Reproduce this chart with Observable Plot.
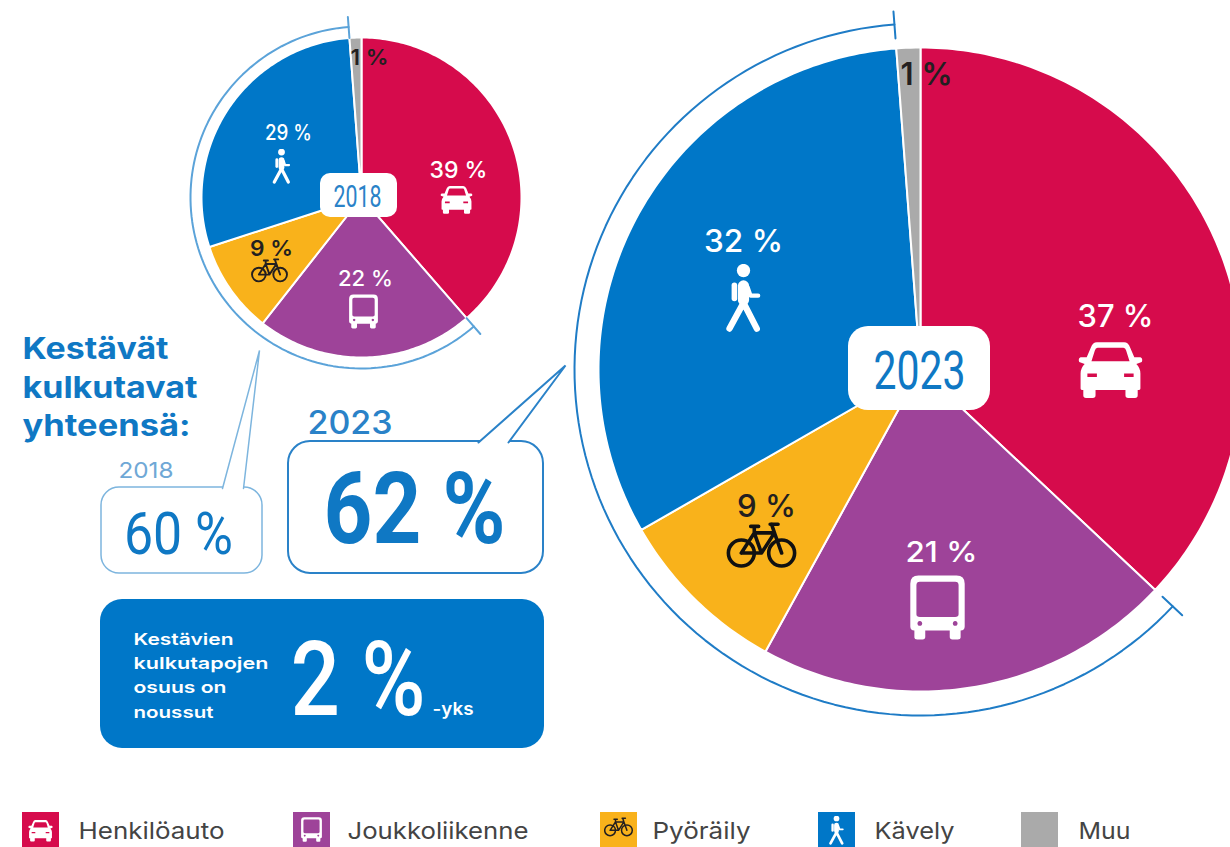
<!DOCTYPE html>
<html lang="fi">
<head>
<meta charset="utf-8">
<script src="https://cdn.jsdelivr.net/npm/d3@7"></script>
<script src="https://cdn.jsdelivr.net/npm/@observablehq/plot@0.6"></script>
<style>html,body{margin:0;padding:0;background:#fff;overflow:hidden}</style>
</head>
<body>
<div id="chart"></div>
<script>
const categories = ["Henkilöauto", "Joukkoliikenne", "Pyöräily", "Kävely", "Muu"];
const colors = ["#d60b4c", "#9e4399", "#f9b21b", "#0077c8", "#aaaaaa"];
const values2018 = [38.6, 22, 9.4, 28.8, 1.2];
const values2023 = [37, 21, 8.7, 32.1, 1.2];
const W = 1230, H = 847;

const SANS = "Inter, 'Noto Sans', sans-serif";
const NARROW = "Roboto, sans-serif";
const BLUE = "#0f78c4", LIGHT = "#7db5de", MID = "#2a82c8";

// ---- layout of the two pies
const pies = [
  {year: "2018", values: values2018, cx: 361, cy: 197, r: 160, bracketR: 171, tickIn: 160, tickOut: 181, bracket: "#5ba3d9"},
  {year: "2023", values: values2023, cx: 920, cy: 369, r: 322, bracketR: 346, tickIn: 332, tickOut: 359, bracket: "#1f7cc6"}
];

const polar = (p, r, a) => ({x: p.cx + r * Math.sin(a), y: p.cy - r * Math.cos(a)});
const TAU = 2 * Math.PI;
const pieLayout = d3.pie().sort(null);

const slicePoints = pies.flatMap(p =>
  pieLayout(p.values).flatMap((s, i) => {
    const n = Math.max(4, Math.ceil((s.endAngle - s.startAngle) * 60));
    const rim = d3.range(n + 1).map(k =>
      polar(p, p.r, s.startAngle + (s.endAngle - s.startAngle) * k / n));
    return [{x: p.cx, y: p.cy}, ...rim, {x: p.cx, y: p.cy}]
      .map(q => ({...q, key: p.year + i, category: categories[i]}));
  })
);

// the bracket spans the three sustainable modes (slices 1 to 3)
const bracketPoints = pies.flatMap(p => {
  const total = d3.sum(p.values);
  const a0 = p.values[0] / total * TAU;
  const a1 = a0 + d3.sum(p.values.slice(1, 4)) / total * TAU;
  const arc = d3.range(121).map(k => polar(p, p.bracketR, a0 + (a1 - a0) * k / 120));
  return [
    ...arc.map(q => ({...q, key: p.year + "arc", color: p.bracket})),
    ...[polar(p, p.tickIn, a0), polar(p, p.tickOut, a0)].map(q => ({...q, key: p.year + "t0", color: p.bracket})),
    ...[polar(p, p.tickIn, a1), polar(p, p.tickOut, a1)].map(q => ({...q, key: p.year + "t1", color: p.bracket}))
  ];
});

// ---- icons
const svgUri = (inner, vb) => "data:image/svg+xml," + encodeURIComponent(
  `<svg xmlns="http://www.w3.org/2000/svg" viewBox="${vb || "0 0 100 100"}">${inner}</svg>`);
const icon = {
  car: c => svgUri(`<path fill="${c}" fill-rule="evenodd" d="M30 10H70Q76 10 79 18L85 32H94Q98 34 96 39L88 42Q94 48 94 56V78Q94 80 92 80H90V88Q90 92 86 92H76Q72 92 72 88V80H28V88Q28 92 24 92H14Q10 92 10 88V80H8Q6 80 6 78V56Q6 48 12 42L4 39Q2 34 6 32H15L21 18Q24 10 30 10ZM31 18Q28 18 27 22L22 38H78L73 22Q72 18 69 18ZM16 56V61H30V56ZM70 56V61H84V56Z"/>`),
  bus: c => svgUri(`<path fill="${c}" fill-rule="evenodd" d="M22 3H78Q90 3 90 15V78Q90 84 84 84V94Q84 97 80 97H72Q68 97 68 93V84H32V93Q32 97 28 97H20Q16 97 16 94V84Q10 84 10 78V15Q10 3 22 3ZM24 12Q19 12 19 17V60Q19 64 24 64H76Q81 64 81 60V17Q81 12 76 12ZM24 70a3.500 3.500 0 1 0 .01 0ZM76 70a3.500 3.500 0 1 0 .01 0Z"/>`),
  bike: c => svgUri(`<g fill="none" stroke="${c}" stroke-width="5" stroke-linecap="round" stroke-linejoin="round"><circle cx="22" cy="66" r="18"/><circle cx="78" cy="66" r="18"/><path d="M22 66L40 38H68L78 66M40 38L50 66L68 38M22 66H50M35 29H46M40 29V38M64 26L68 38M62 26H73"/></g>`),
  walker: c => svgUri(`<g fill="none" stroke="${c}" stroke-linecap="round" stroke-linejoin="round"><circle cx="50" cy="10" r="9.500" fill="${c}" stroke="none"/><path stroke-width="16" d="M50 32V52"/><path stroke-width="6" d="M56 34L60 46H71"/><path stroke-width="8" d="M37 31V50"/><path stroke-width="9" d="M50 56L30 93M50 56L69 93"/></g>`)
};

const iconRows = [
  {src: icon.car("#fff"), x: 456, y: 199, size: 34},
  {src: icon.bus("#fff"), x: 363, y: 311, size: 36},
  {src: icon.bike("#231f20"), x: 269, y: 268, size: 38},
  {src: icon.walker("#fff"), x: 281, y: 166, size: 36},
  {src: icon.car("#fff"), x: 1110, y: 369, size: 68},
  {src: icon.bus("#fff"), x: 937, y: 607, size: 68},
  {src: icon.bike("#111"), x: 761, y: 541, size: 72},
  {src: icon.walker("#fff"), x: 743, y: 298, size: 70},
  {src: icon.car("#fff"), x: 40, y: 830, size: 26},
  {src: icon.bus("#fff"), x: 311, y: 829, size: 26},
  {src: icon.bike("#231f20"), x: 618, y: 825, size: 30},
  {src: icon.walker("#fff"), x: 836, y: 830, size: 30}
];

// ---- text helper; len fits the run to the reference's width
const txt = (text, x, y, size, fill, opts = {}) => Plot.text([{x, y, text}], {
  x: "x", y: "y", text: "text", fontSize: size, fill,
  lineAnchor: "bottom", textAnchor: opts.anchor || "start",
  fontFamily: opts.family || SANS, fontWeight: opts.weight || 500,
  render: opts.len ? (i, s, v, d, c, next) => {
    const g = next(i, s, v, d, c);
    g.querySelectorAll("text").forEach(t => {
      t.setAttribute("textLength", opts.len);
      t.setAttribute("lengthAdjust", "spacingAndGlyphs");
    });
    return g;
  } : undefined
});

// ---- rounded boxes
const box = (x1, y1, x2, y2, rx, fill, stroke, strokeWidth) => Plot.rect([{x1, y1, x2, y2}], {
  x1: "x1", y1: "y1", x2: "x2", y2: "y2", rx, fill, stroke: stroke || "none", strokeWidth: strokeWidth || 0
});
const tail = (pts, stroke, sw) => [
  Plot.line(pts, {x: "x", y: "y", fill: "white", stroke: "none"}),
  Plot.line(pts, {x: "x", y: "y", stroke, strokeWidth: sw, fill: "none", strokeLinejoin: "miter"})
];

const legendX = [22, 293, 600, 818, 1021];
const legendTextX = [78, 347, 652, 874, 1078];
const legendLen = [146, 181, 98, 80, 52];
const legendRows = categories.map((c, i) => ({c, x1: legendX[i], x2: legendX[i] + 37, tx: legendTextX[i]}));

const chart = Plot.plot({
  width: W, height: H,
  margin: 0,
  style: {background: "white"},
  x: {domain: [0, W], range: [0, W], axis: null},
  y: {domain: [0, H], range: [0, H], axis: null},
  color: {domain: categories, range: colors},
  marks: [
    Plot.line(slicePoints, {x: "x", y: "y", z: "key", fill: "category", stroke: "white", strokeWidth: 2, strokeLinejoin: "round"}),
    Plot.line(bracketPoints, {x: "x", y: "y", z: "key", stroke: "color", strokeWidth: 2}),
    box(320, 173, 397, 217, 10, "white"),
    box(848, 326, 990, 410, 20, "white"),
    txt("2018", 357, 206, 32, MID, {anchor: "middle", family: NARROW, weight: 400, len: 48}),
    txt("2023", 919, 388, 53, BLUE, {anchor: "middle", family: NARROW, weight: 400, len: 92}),

    // 2018 labels
    txt("39 %", 458, 177, 23, "white", {anchor: "middle", len: 58}),
    txt("22 %", 365, 285, 22, "white", {anchor: "middle", len: 55}),
    txt("9 %", 271, 255, 22, "#231f20", {anchor: "middle", weight: 600, len: 43}),
    txt("29 %", 288, 139, 21, "white", {anchor: "middle", len: 47}),
    txt("1 %", 369, 64, 22, "#231f20", {anchor: "middle", weight: 600, len: 38}),
    // 2023 labels
    txt("37 %", 1115, 326, 31, "white", {anchor: "middle", len: 76}),
    txt("21 %", 941, 561, 28, "white", {anchor: "middle", len: 72}),
    txt("9 %", 766, 516, 31, "#231f20", {anchor: "middle", len: 59}),
    txt("32 %", 743, 251, 31, "white", {anchor: "middle", len: 79}),
    txt("1 %", 926, 84, 31, "#231f20", {anchor: "middle", weight: 600, len: 52}),

    // heading
    txt("Kestävät", 22, 358, 30, BLUE, {weight: 700, len: 146}),
    txt("kulkutavat", 22, 397, 30, BLUE, {weight: 700, len: 175}),
    txt("yhteensä:", 22, 435, 30, BLUE, {weight: 700, len: 168}),

    // bubbles
    box(101, 487, 262, 573, 18, "white", LIGHT, 1.500),
    ...tail([{x: 222, y: 488}, {x: 259, y: 350}, {x: 243, y: 488}], LIGHT, 1.500),
    box(288, 441, 543, 573, 22, "white", MID, 2),
    ...tail([{x: 478, y: 442}, {x: 565, y: 365}, {x: 508, y: 442}], MID, 2),
    txt("2018", 118, 477, 22, "#6fa8d6", {weight: 400, len: 55}),
    txt("2023", 307, 433, 32, MID, {weight: 500, len: 85}),
    txt("60 %", 178, 553, 60, BLUE, {anchor: "middle", family: NARROW, weight: 400, len: 109}),
    txt("62 %", 414, 542, 101, BLUE, {anchor: "middle", family: NARROW, weight: 700, len: 182}),

    // change panel
    box(100, 599, 544, 748, 22, "#0077c8"),
    txt("Kestävien", 133, 644, 16.500, "white", {weight: 600, len: 100}),
    txt("kulkutapojen", 133, 668, 16.500, "white", {weight: 600, len: 135}),
    txt("osuus on", 133, 692, 16.500, "white", {weight: 600, len: 93}),
    txt("noussut", 133, 717, 16.500, "white", {weight: 600, len: 80}),
    txt("2 %", 290, 714, 104, "white", {family: NARROW, weight: 500, len: 135}),
    txt("-yks", 432, 714, 17, "white", {weight: 600, len: 41}),

    // legend
    Plot.rect(legendRows, {x1: "x1", x2: "x2", y1: () => 812, y2: () => 847, fill: "c"}),
    ...legendRows.map((r, i) => txt(r.c, r.tx, 838, 23, "#444", {weight: 400, len: legendLen[i]})),

    // icons
    Plot.image(iconRows, {x: "x", y: "y", src: "src", width: "size", height: "size"})
  ]
});
document.getElementById("chart").appendChild(chart);
</script>
</body>
</html>
